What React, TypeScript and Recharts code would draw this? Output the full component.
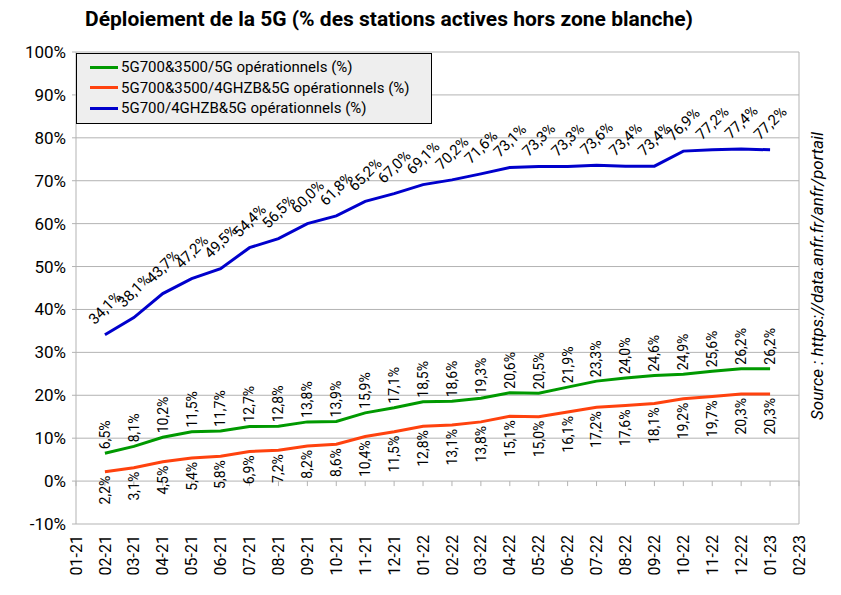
import React from "react";
import { CartesianGrid, LabelList, Line, LineChart, ReferenceLine, XAxis, YAxis } from "recharts";

const months = [
  "01-21", "02-21", "03-21", "04-21", "05-21", "06-21", "07-21", "08-21", "09-21", "10-21", "11-21", "12-21",
  "01-22", "02-22", "03-22", "04-22", "05-22", "06-22", "07-22", "08-22", "09-22", "10-22", "11-22", "12-22",
  "01-23", "02-23",
];

// values from 02-21 to 01-23
const green = [6.5, 8.1, 10.2, 11.5, 11.7, 12.7, 12.8, 13.8, 13.9, 15.9, 17.1, 18.5, 18.6, 19.3, 20.6, 20.5, 21.9, 23.3, 24.0, 24.6, 24.9, 25.6, 26.2, 26.2];
const orange = [2.2, 3.1, 4.5, 5.4, 5.8, 6.9, 7.2, 8.2, 8.6, 10.4, 11.5, 12.8, 13.1, 13.8, 15.1, 15.0, 16.1, 17.2, 17.6, 18.1, 19.2, 19.7, 20.3, 20.3];
const blue = [34.1, 38.1, 43.7, 47.2, 49.5, 54.4, 56.5, 60.0, 61.8, 65.2, 67.0, 69.1, 70.2, 71.6, 73.1, 73.3, 73.3, 73.6, 73.4, 73.4, 76.9, 77.2, 77.4, 77.2];

const yTicks = [-10, 0, 10, 20, 30, 40, 50, 60, 70, 80, 90, 100];

const series = [
  { key: "green", name: "5G700&3500/5G opérationnels (%)", color: "#009900", values: green },
  { key: "orange", name: "5G700&3500/4GHZB&5G opérationnels (%)", color: "#ff420e", values: orange },
  { key: "blue", name: "5G700/4GHZB&5G opérationnels (%)", color: "#0000cc", values: blue },
];

const data = months.map((month, i) => {
  const row: any = { month };
  series.forEach((s) => {
    const v = s.values[i - 1];
    row[s.key] = v === undefined ? null : v;
  });
  return row;
});

const W = 833;
const H = 587;
const MARGIN = { top: 44, right: 42, left: 0, bottom: 0 };
const XAXIS_H = 71;
const PLOT_H = H - MARGIN.top - MARGIN.bottom - XAXIS_H;
const ZERO_OFFSET = (PLOT_H * (0 - yTicks[0])) / (yTicks[yTicks.length - 1] - yTicks[0]);
const GRID = "#b3b3b3";
const FONT = "Roboto, 'Liberation Sans', sans-serif";

const fmt = (v: number) => v.toFixed(1).replace(".", ",") + "%";

function MonthTick(props: any) {
  const { x, y, payload } = props;
  const ty = y + 11;
  return (
    <g>
      <line x1={x} x2={x} y1={y - ZERO_OFFSET} y2={y - ZERO_OFFSET + 5} stroke={GRID} />
      <text
        x={x}
        y={ty}
        dy="0.35em"
        textAnchor="end"
        transform={`rotate(-90, ${x}, ${ty})`}
        fontSize={16}
        fontFamily={FONT}
        fill="#000"
      >
        {payload.value}
      </text>
    </g>
  );
}

const aboveLabel = (props: any) => {
  const { x, y, value } = props;
  if (value == null) return null;
  return (
    <text x={x} y={y - 4} dy="0.35em" textAnchor="start" transform={`rotate(-90, ${x}, ${y - 4})`}
      fontSize={14} fontFamily={FONT} fill="#000">
      {fmt(value)}
    </text>
  );
};

const belowLabel = (props: any) => {
  const { x, y, value } = props;
  if (value == null) return null;
  return (
    <text x={x} y={y + 4} dy="0.35em" textAnchor="end" transform={`rotate(-90, ${x}, ${y + 4})`}
      fontSize={14} fontFamily={FONT} fill="#000">
      {fmt(value)}
    </text>
  );
};

const diagLabel = (props: any) => {
  const { x, y, value } = props;
  if (value == null) return null;
  const cy = y - 27;
  return (
    <text x={x} y={cy} dy="0.35em" textAnchor="middle" transform={`rotate(-45, ${x}, ${cy})`}
      fontSize={15} fontFamily={FONT} fill="#000">
      {fmt(value)}
    </text>
  );
};

const labelFor: any = { green: aboveLabel, orange: belowLabel, blue: diagLabel };

export default function App() {
  return (
    <div style={{ position: "relative", width: W, height: H, fontFamily: FONT }}>
      <div
        style={{
          position: "absolute", left: 381, top: 1, transform: "translateX(-50%)",
          whiteSpace: "nowrap", fontSize: 21, fontWeight: "bold", lineHeight: "20px", color: "#000",
        }}
      >
        Déploiement de la 5G (% des stations actives hors zone blanche)
      </div>

      <LineChart width={W} height={H} data={data} margin={MARGIN}>
        <CartesianGrid vertical={false} stroke={GRID} />
        <XAxis
          dataKey="month"
          height={XAXIS_H}
          interval={0}
          tickLine={false}
          axisLine={false}
          tickSize={0}
          tickMargin={0}
          tick={<MonthTick />}
        />
        <YAxis
          width={68}
          domain={[yTicks[0], yTicks[yTicks.length - 1]]}
          ticks={yTicks}
          interval={0}
          tickFormatter={(v: number) => `${v}%`}
          axisLine={{ stroke: GRID }}
          tickLine={{ stroke: GRID }}
          tickSize={4}
          tickMargin={6}
          tick={{ fontSize: 17, fill: "#000", fontFamily: FONT }}
        />
        <ReferenceLine x={months[months.length - 1]} stroke={GRID} />
        {series.map((s) => (
          <Line
            key={s.key}
            type="linear"
            dataKey={s.key}
            name={s.name}
            stroke={s.color}
            strokeWidth={3}
            dot={false}
            activeDot={false}
            isAnimationActive={false}
          >
            <LabelList dataKey={s.key} content={labelFor[s.key]} />
          </Line>
        ))}
      </LineChart>

      <div
        style={{
          position: "absolute", left: 68, top: 45, width: 356, height: 71, boxSizing: "border-box",
          border: "1px solid #000", background: "#eeeeee", paddingTop: 3,
        }}
      >
        {series.map((s) => (
          <div key={s.key} style={{ display: "flex", alignItems: "center", height: 20.5, paddingLeft: 13 }}>
            <div style={{ width: 28, height: 3, background: s.color, marginRight: 3 }} />
            <span style={{ fontSize: 15, color: "#000", whiteSpace: "nowrap" }}>{s.name}</span>
          </div>
        ))}
      </div>

      <div
        style={{
          position: "absolute", left: 809, top: 268, transform: "translate(-50%, -50%) rotate(-90deg)",
          whiteSpace: "nowrap", fontSize: 17, fontStyle: "italic", color: "#000",
        }}
      >
        Source : https://data.anfr.fr/anfr/portail
      </div>
    </div>
  );
}
